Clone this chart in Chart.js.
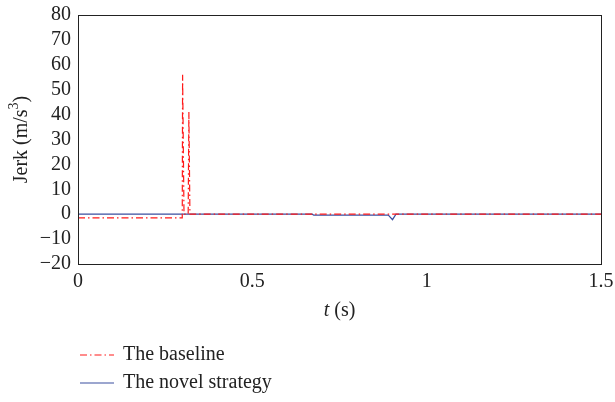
<!DOCTYPE html>
<html>
<head>
<meta charset="utf-8">
<script src="https://cdn.jsdelivr.net/npm/chart.js@4"></script>
<style>
  body { margin: 0; background: #fff; }
  #wrap { width: 615px; height: 402px; position: relative; }
</style>
</head>
<body>
<div id="wrap"><canvas id="myChart" width="615" height="402"></canvas></div>
<script>
// data
let baselineT = [0, 0.299, 0.300, 0.304, 0.316, 0.318, 0.321, 0.5, 1.0, 1.5];
let baselineJerk = [-1.5, -1.5, 56, 0, 0, 41, 0, 0, 0, 0];

let novelT = [0, 0.672, 0.676, 0.89, 0.902, 0.912, 1.5];
let novelJerk = [0, 0, -0.4, -0.4, -2.2, 0, 0];

let xTicks = [0, 0.5, 1, 1.5];
let yTicks = [-20, -10, 0, 10, 20, 30, 40, 50, 60, 70, 80];

let names = ["The baseline", "The novel strategy"];

const fontFam = "'Liberation Serif', 'DejaVu Serif', serif";

function punkter(t, v) {
    return t.map((x, i) => ({ x: x, y: v[i] }));
}

// ramme rundt plottet, aksetitler og legend
const tegnEkstra = {
    id: 'tegnEkstra',
    afterDraw(chart) {
        const c = chart.ctx;
        const a = chart.chartArea;
        c.save();
        c.strokeStyle = '#222';
        c.lineWidth = 1;
        c.strokeRect(Math.round(a.left) + 0.5, Math.round(a.top) + 0.5,
            Math.round(a.right - a.left), Math.round(a.bottom - a.top));

        // x tittel: t (s) med kursiv t
        c.fillStyle = '#222';
        c.textBaseline = 'middle';
        c.font = 'italic 20px ' + fontFam;
        let w1 = c.measureText('t').width;
        c.font = '20px ' + fontFam;
        let w2 = c.measureText(' (s)').width;
        let sx = (a.left + a.right) / 2 - (w1 + w2) / 2;
        c.textAlign = 'left';
        c.font = 'italic 20px ' + fontFam;
        c.fillText('t', sx, 311);
        c.font = '20px ' + fontFam;
        c.fillText(' (s)', sx + w1, 311);

        // y tittel med hevet 3
        c.save();
        c.translate(22, (a.top + a.bottom) / 2);
        c.rotate(-Math.PI / 2);
        c.font = '20px ' + fontFam;
        let d1 = 'Jerk (m/s', d3 = ')';
        let b1 = c.measureText(d1).width, b3 = c.measureText(d3).width;
        c.font = '14px ' + fontFam;
        let b2 = c.measureText('3').width;
        let st = -(b1 + b2 + b3) / 2;
        c.textAlign = 'left';
        c.font = '20px ' + fontFam;
        c.fillText(d1, st, 0);
        c.fillText(d3, st + b1 + b2, 0);
        c.font = '14px ' + fontFam;
        c.fillText('3', st + b1, -8);
        c.restore();

        // legend
        const rows = [355, 383];
        c.font = '20px ' + fontFam;
        chart.data.datasets.forEach((ds, i) => {
            c.beginPath();
            c.strokeStyle = ds.borderColor;
            c.lineWidth = 1.2;
            c.setLineDash(ds.borderDash || []);
            c.moveTo(80, rows[i]);
            c.lineTo(114, rows[i]);
            c.stroke();
            c.setLineDash([]);
            c.fillStyle = '#222';
            c.textAlign = 'left';
            c.fillText(names[i], 123, rows[i]);
        });
        c.restore();
    }
};

const ctx = document.getElementById('myChart');

new Chart(ctx, {
    type: 'scatter',
    data: {
        datasets: [{
            label: names[0],
            data: punkter(baselineT, baselineJerk),
            showLine: true,
            borderColor: '#ff1a1a',
            borderWidth: 1.2,
            borderDash: [7, 3, 1.5, 3],
            pointRadius: 0,
            tension: 0
        }, {
            label: names[1],
            data: punkter(novelT, novelJerk),
            showLine: true,
            borderColor: '#3b4fa0',
            borderWidth: 1.2,
            pointRadius: 0,
            tension: 0
        }]
    },
    options: {
        responsive: false,
        animation: false,
        layout: { padding: { left: 0, right: 14, top: 15, bottom: 0 } },
        plugins: { legend: { display: false }, tooltip: { enabled: false } },
        scales: {
            x: {
                type: 'linear',
                min: 0,
                max: 1.5,
                afterBuildTicks: (ax) => { ax.ticks = xTicks.map(v => ({ value: v })); },
                afterFit: (ax) => { ax.height = 138; ax.paddingLeft = 0; ax.paddingRight = 0; },
                grid: { display: false, drawTicks: false },
                border: { display: false },
                ticks: {
                    padding: 6,
                    autoSkip: false,
                    maxRotation: 0,
                    color: '#222',
                    font: { family: fontFam, size: 20 },
                    callback: (v) => String(v)
                }
            },
            y: {
                min: -20,
                max: 80,
                afterBuildTicks: (ax) => { ax.ticks = yTicks.map(v => ({ value: v })); },
                afterFit: (ax) => { ax.width = 78; ax.paddingTop = 0; ax.paddingBottom = 0; },
                grid: { display: false, drawTicks: false },
                border: { display: false },
                ticks: {
                    padding: 7,
                    autoSkip: false,
                    color: '#222',
                    font: { family: fontFam, size: 20 },
                    callback: (v) => String(v).replace('-', '\u2212')
                }
            }
        }
    },
    plugins: [tegnEkstra]
});
</script>
</body>
</html>
